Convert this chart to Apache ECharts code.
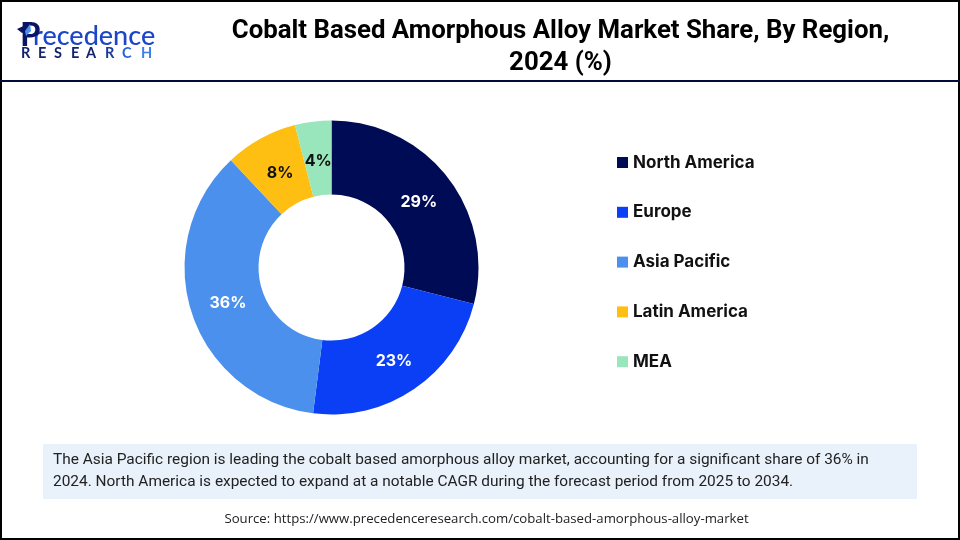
<!DOCTYPE html>
<html><head><meta charset="utf-8">
<style>html,body{margin:0;padding:0;background:#fff}#c{width:960px;height:540px}</style>
<script src="https://cdn.jsdelivr.net/npm/echarts@6/dist/echarts.min.js"></script></head>
<body><div id="c"></div>
<script>
const categories=["North America","Europe","Asia Pacific","Latin America","MEA"];
const shares=[29,23,36,8,4];
const colors=["#000B55","#0B3FF5","#4A90EC","#FFBE12","#99E6BC"];
const labelNudges=[[-2,4],[-1,0],[4,1],[3,5],[1,6]];
const titleLines="Cobalt Based Amorphous Alloy Market Share, By Region,\n2024 (%)";
const noteText="The Asia Pacific region is leading the cobalt based amorphous alloy market, accounting for a significant share of 36% in\n2024. North America is expected to expand at a notable CAGR during the forecast period from 2025 to 2034.";
const sourceText="Source: https://www.precedenceresearch.com/cobalt-based-amorphous-alloy-market";
const logoLetters="RESEARCH".split("");
const logoX=[21,38,54,71,86,105,122,141];
const logoColors=["#14236E","#14236E","#14236E","#14236E","#14236E","#1A3A9A","#2A62D8","#3A80E8"];
const chart=echarts.init(document.getElementById('c'),null,{renderer:'canvas'});
chart.setOption({
 animation:false,
 title:{text:titleLines,left:555.5,top:11,textAlign:'center',textStyle:{fontFamily:'Roboto',fontWeight:'bold',fontSize:25.8,lineHeight:32,color:'#000'}},
 legend:{orient:'vertical',left:612,top:147,itemWidth:11,itemHeight:11,itemGap:28.8,icon:'rect',data:categories,
   textStyle:{fontFamily:'Inter',fontWeight:700,fontSize:17,color:'#111',lineHeight:20,padding:[1,0,0,0]}},
 series:[{type:'pie',center:[331.5,267.5],radius:[73,147],startAngle:90,clockwise:true,
   label:{show:true,position:'inside',formatter:'{c}%',fontFamily:'Inter',fontWeight:700,fontSize:16,color:'#fff'},
   labelLine:{show:false},
   data:categories.map((n,i)=>({name:n,value:shares[i],itemStyle:{color:colors[i]},
     label:Object.assign({offset:labelNudges[i]},(i>=3)?{color:'#111'}:{}) }))}],
 graphic:[
  {type:'rect',silent:true,z:-1,shape:{x:1,y:1,width:958,height:538},style:{fill:'#fff',stroke:'#000',lineWidth:2}},
  {type:'line',shape:{x1:0,y1:81,x2:960,y2:81},style:{stroke:'#000B3C',lineWidth:2}},
  {type:'rect',z:-1,shape:{x:43,y:444,width:874,height:55},style:{fill:'#E9F1FA'}},
  {type:'text',x:53,y:449,style:{text:noteText,fontFamily:'Roboto',fontSize:15.43,lineHeight:22,fill:'#222'}},
  {type:'text',x:486.5,y:512.5,style:{text:sourceText,fontFamily:'Open Sans',fontSize:13.2,fill:'#222',align:'center'}},
  {type:'text',x:33,y:23,style:{text:'recedence',fontFamily:'Lato',fontSize:27,fontWeight:500,fill:'#1C46C8'}},
  {type:'text',x:20,y:19,style:{text:'P',fontFamily:'Lato',fontSize:33,fontWeight:'bold',fill:'#0A1464'}},
  {type:'polygon',shape:{points:[[17,29],[32,22],[27,31],[22,33]]},style:{fill:'#0A1464'}},
  {type:'polygon',shape:{points:[[30,24],[31,31],[26,36],[25,31]]},style:{fill:'#4A90EC'}}
 ].concat(logoLetters.map((ch,i)=>({type:'text',x:logoX[i],y:46,style:{text:ch,fontFamily:'Lato',fontSize:14.5,fontWeight:'bold',fill:logoColors[i]}})))
});
</script></body></html>
